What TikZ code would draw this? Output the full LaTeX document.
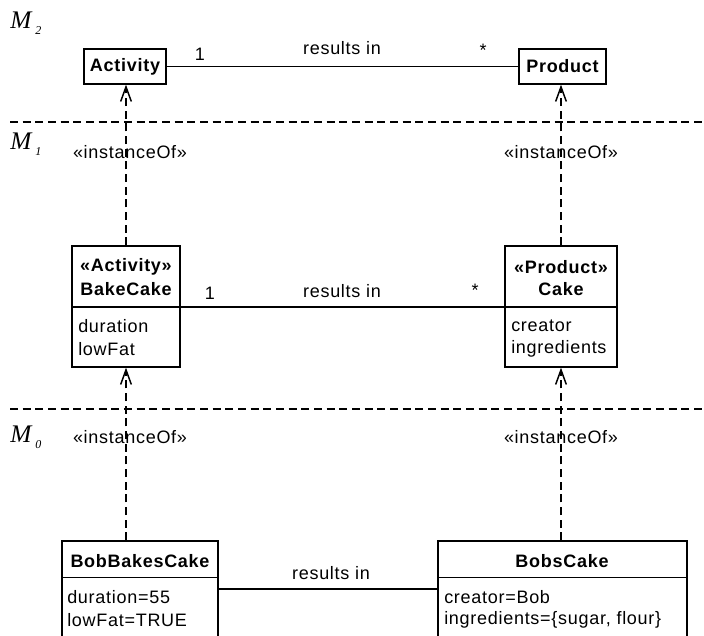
\documentclass[tikz,border=0pt]{standalone}
\usepackage{fontspec}
\setmainfont[LetterSpace=4]{Liberation Sans}
\newfontfamily\mserif{Liberation Serif}
\usetikzlibrary{arrows.meta}
\newcommand{\mlevel}[1]{{\mserif\itshape\fontsize{19}{20}\selectfont M\kern3pt\raisebox{-4.5pt}{\fontsize{9}{9}\selectfont #1}}}
\tikzset{
  box/.style={draw, line width=1pt, inner sep=0pt, fill=white},
  assoc/.style={line width=1.4pt},
  inst/.style={line width=1.4pt, dash pattern=on 6pt off 3.5pt, -{Straight Barb[length=11pt,width=8pt,line width=1.1pt]}},
  level/.style={line width=1.3pt, dash pattern=on 6pt off 3.5pt},
  lbl/.style={inner sep=0pt, font=\fontsize{13.5}{16}\selectfont},
  ttl/.style={inner sep=0pt, font=\fontsize{13.5}{16}\selectfont\bfseries},
  attr/.style={inner sep=0pt, anchor=west, font=\fontsize{13.5}{16}\selectfont},
  mlev/.style={inner sep=0pt, anchor=west},
}
\begin{document}
\begin{tikzpicture}[x=0.75pt, y=-0.75pt]
\useasboundingbox (0,0) rectangle (704,636);
\clip (0,0) rectangle (704,636);
% level separators
\coordinate (l1a) at (10,122); \coordinate (l1b) at (704,122);
\coordinate (l0a) at (10,409); \coordinate (l0b) at (704,409);
\draw[level] (l1a) -- (l1b);
\draw[level] (l0a) -- (l0b);
\node[mlev] (m2) at (10,23) {\mlevel{2}};
\node[mlev] (m1) at (10,144) {\mlevel{1}};
\node[mlev] (m0) at (10,437) {\mlevel{0}};

% M2
\node[box, minimum width=61.5pt, minimum height=26.25pt, ttl] (act) at (125,66.5) {Activity};
\node[box, minimum width=65.25pt, minimum height=26.25pt, ttl] (prod) at (562.5,66.5) {Product};
\draw[assoc] (act.east) -- (prod.west);
\node[lbl] (ri2) at (342,48) {results in};
\node[lbl] (one2) at (200,54) {1};
\node[lbl] (star2) at (483,50) {*};

% M1
\node[box, minimum width=81pt, minimum height=90.75pt] (bake) at (126,306.5) {};
\node[box, minimum width=84pt, minimum height=90.75pt] (cake) at (561,306.5) {};
\coordinate (d1) at (0,307);
\draw[line width=1.2pt] (bake.west |- d1) -- (bake.east |- d1);
\draw[line width=1.2pt] (cake.west |- d1) -- (cake.east |- d1);
\node[ttl] (bst) at (126,267) {«Activity»};
\node[ttl] (bn) at (126,289) {BakeCake};
\node[attr] (ba1) at (78,326) {duration};
\node[attr] (ba2) at (78,349) {lowFat};
\node[ttl] (cst) at (561,267) {«Product»};
\node[ttl] (cn) at (561,289) {Cake};
\node[attr] (ca1) at (511,326) {creator};
\node[attr] (ca2) at (511,349) {ingredients};
\draw[assoc] (bake.east |- d1) -- (cake.west |- d1);
\node[lbl] (ri1) at (342,291) {results in};
\node[lbl] (one1) at (210,293) {1};
\node[lbl] (star1) at (475,290) {*};
\draw[inst] (bake.north) -- (bake.north |- act.south);
\draw[inst] (cake.north) -- (cake.north |- prod.south);
\node[lbl] (io1l) at (130,152) {«instanceOf»};
\node[lbl] (io1r) at (561,152) {«instanceOf»};

% M0
\node[box, minimum width=117pt, minimum height=90pt] (bbc) at (140,601) {};
\node[box, minimum width=186.75pt, minimum height=90pt] (bc) at (562.5,601) {};
\coordinate (d0) at (0,577.5);
\draw[line width=1.2pt] (bbc.west |- d0) -- (bbc.east |- d0);
\draw[line width=1.2pt] (bc.west |- d0) -- (bc.east |- d0);
\node[ttl] (bbcn) at (140,561) {BobBakesCake};
\node[attr] (bbc1) at (67,597) {duration=55};
\node[attr] (bbc2) at (67,620) {lowFat=TRUE};
\node[ttl] (bcn) at (562,561) {BobsCake};
\node[attr] (bc1) at (444,597) {creator=Bob};
\node[attr] (bc2) at (444,620) {ingredients=\{sugar, flour\}};
\coordinate (r0) at (0,589);
\draw[assoc] (bbc.east |- r0) -- (bc.west |- r0);
\node[lbl] (ri0) at (331,573) {results in};
\draw[inst] (bake.south |- bbc.north) -- (bake.south);
\draw[inst] (cake.south |- bc.north) -- (cake.south);
\node[lbl] (io0l) at (130,437) {«instanceOf»};
\node[lbl] (io0r) at (561,437) {«instanceOf»};
\end{tikzpicture}
\end{document}
